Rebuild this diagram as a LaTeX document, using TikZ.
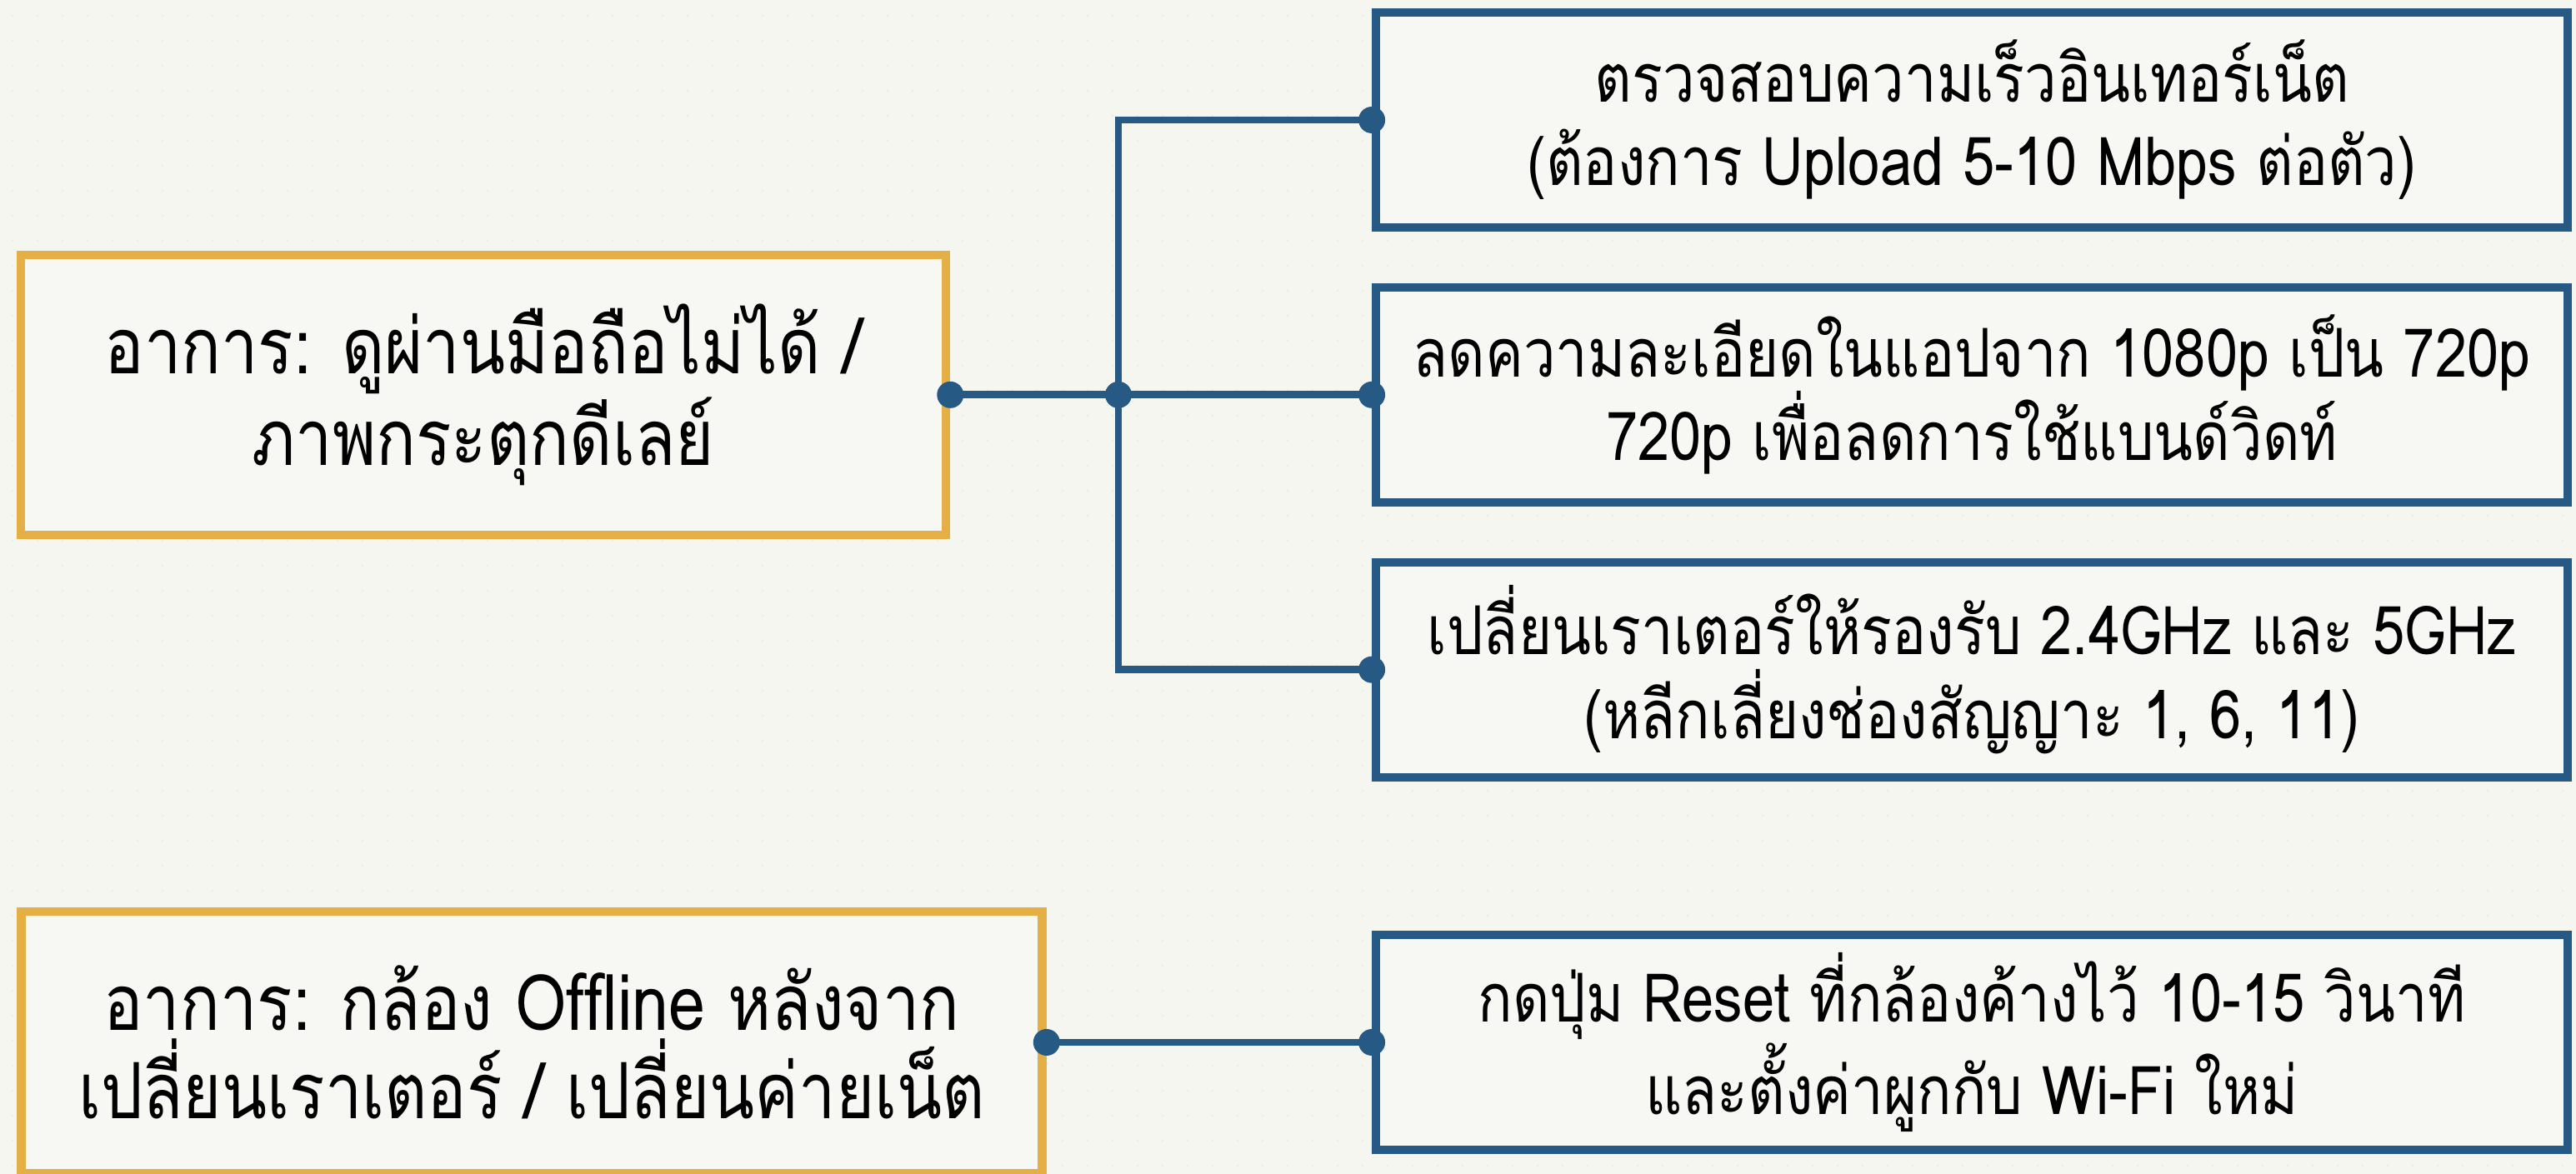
\documentclass[tikz,border=0pt]{standalone}
\usepackage{fontspec}
\newfontfamily\thaifont[Script=Thai,FakeStretch=0.85]{Loma}
\usetikzlibrary{positioning}
\definecolor{bgpaper}{RGB}{246,246,241}
\definecolor{boxfill}{RGB}{247,247,243}
\definecolor{symgold}{RGB}{228,176,70}
\definecolor{fixblue}{RGB}{38,90,132}

\begin{document}
\begin{tikzpicture}[node distance=6.2mm,
    sym/.style={draw=symgold,line width=3pt,fill=boxfill,align=center,inner sep=0pt,
      font={\thaifont\fontsize{26.5}{30}\selectfont}},
    fix/.style={draw=fixblue,line width=2.8pt,fill=boxfill,align=center,minimum width=14.3cm,minimum height=2.58cm,inner sep=0pt,
      font={\thaifont\fontsize{23}{28.5}\selectfont}},
    link/.style={fixblue,line width=2.5pt},
    joint/.style={circle,fill=fixblue,inner sep=0pt,minimum size=3.2mm}]
  % paper with faint dot grid
  \fill[bgpaper] (0,0) rectangle (30.91,14.09);
  \useasboundingbox (0,0) rectangle (30.91,14.09);
  \foreach \i in {0,...,102} \foreach \j in {0,...,46} \fill[black!9] (\i*0.3+0.15,\j*0.3+0.1) circle (0.12mm);
  % fixes
  \node[fix] (fix1) at (23.66,12.65) {ตรวจสอบความเร็วอินเทอร์เน็ต\\(ต้องการ Upload 5-10 Mbps ต่อตัว)};
  \node[fix,below=of fix1] (fix2) {ลดความละเอียดในแอปจาก 1080p เป็น 720p\\720p เพื่อลดการใช้แบนด์วิดท์};
  \node[fix,below=of fix2] (fix3) {เปลี่ยนเราเตอร์ให้รองรับ 2.4GHz และ 5GHz\\(หลีกเลี่ยงช่องสัญญาะ 1, 6, 11)};
  \node[fix] (fix4) at (23.66,1.58) {กดปุ่ม Reset ที่กล้องค้างไว้ 10-15 วินาที\\และตั้งค่าผูกกับ Wi-Fi ใหม่};
  % symptoms
  \node[sym,minimum width=11.1cm,minimum height=3.36cm] (sym1) at (5.8,0 |- fix2.west) {อาการ: ดูผ่านมือถือไม่ได้ /\\ภาพกระตุกดีเลย์};
  \node[sym,minimum width=12.25cm,minimum height=3.14cm] (sym2) at (6.38,1.58) {อาการ: กล้อง Offline หลังจาก\\เปลี่ยนเราเตอร์ / เปลี่ยนค่ายเน็ต};
  % connectors
  \coordinate (jn) at (13.42,0 |- fix2.west);
  \draw[link] (sym1.east) -- (jn) -- (fix2.west);
  \draw[link] (fix1.west) -| (jn) |- (fix3.west);
  \draw[link] (sym2.east) -- (fix4.west);
  \foreach \p in {sym1.east,jn,fix1.west,fix2.west,fix3.west,sym2.east,fix4.west}
    \node[joint] at (\p) {};
\end{tikzpicture}
\end{document}
